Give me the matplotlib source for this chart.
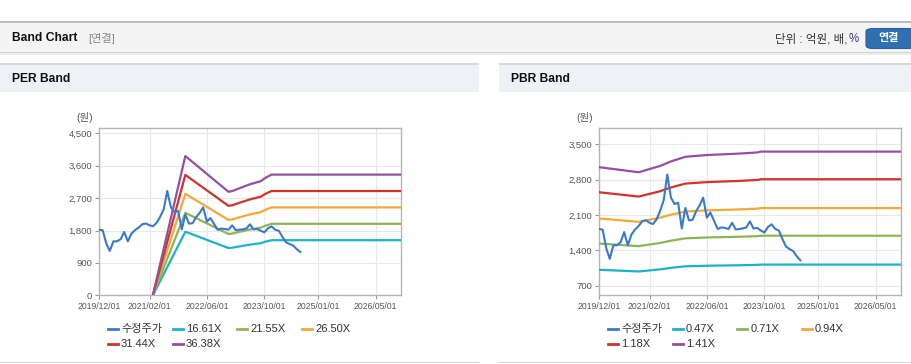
import matplotlib
matplotlib.use("Agg")
import matplotlib.pyplot as plt
import matplotlib.dates as mdates
from matplotlib.patches import Rectangle, FancyBboxPatch
from matplotlib.lines import Line2D
from matplotlib.ticker import FuncFormatter
import pandas as pd

plt.rcParams["font.family"] = ["Liberation Sans", "Noto Sans CJK KR", "DejaVu Sans"]

W, H = 912, 364

# adjusted share price, monthly from 2019/12
price_start = "2019-12-01"
price = [1825, 1807, 1436, 1232, 1500, 1500, 1560, 1760, 1500, 1714,
         1812, 1883, 1975, 1995, 1945, 1918, 2010, 2176, 2392, 2900,
         2443, 2316, 2341, 1832, 2240, 1992, 2005, 2168, 2290, 2443,
         2046, 2148, 1985, 1822, 1853, 1843, 1822, 1945, 1812, 1822,
         1832, 1853, 1973, 1832, 1843, 1792, 1751, 1863, 1914, 1822,
         1792, 1629, 1476, 1425, 1384, 1283, 1203]

# PER band: EPS at the points where the band bends
eps_dates = ["2021-03-01", "2021-12-01", "2022-12-01", "2023-01-01", "2023-03-01",
             "2023-06-01", "2023-07-01", "2023-09-01", "2023-10-01", "2023-11-01",
             "2023-12-01", "2026-12-01"]
eps = [0, 106.4, 79.1, 79.6, 81.7, 84.8, 85.6, 87.2, 89.2, 90.8, 92.2, 92.2]
per_multiples = [16.61, 21.55, 26.50, 31.44, 36.38]

# PBR band: BPS at the points where the band bends
bps_dates = ["2019-12-01", "2020-11-01", "2021-05-01", "2021-08-01", "2021-12-01",
             "2022-06-01", "2023-03-01", "2023-08-01", "2023-09-01", "2026-12-01"]
bps = [2160, 2088, 2177, 2240, 2305, 2330, 2350, 2366, 2378, 2378]
pbr_multiples = [0.47, 0.71, 0.94, 1.18, 1.41]

per_ticks = [0, 900, 1800, 2700, 3600, 4500]
pbr_ticks = [700, 1400, 2100, 2800, 3500]
date_ticks = ["2019-12-01", "2021-02-01", "2022-06-01", "2023-10-01",
              "2025-01-01", "2026-05-01"]
x_end = "2026-12-01"

price_color = "#3a7acb"
band_colors = ["#1cb3c6", "#8fb457", "#f3a938", "#d1332c", "#93519f"]


def fx(px):
    return px / W


def fy(py):
    return 1 - py / H


def rect(fig, x0, y0, x1, y1, color):
    fig.patches.append(Rectangle((fx(x0), fy(y1)), (x1 - x0) / W, (y1 - y0) / H,
                                 transform=fig.transFigure, facecolor=color,
                                 edgecolor="none", zorder=0))


def draw_panel(fig, x0, x1, title, left, ylim, yticks, base, base_dates, multiples):
    rect(fig, x0, 63.5, x1, 64.7, "#d9d9d9")
    rect(fig, x0, 64.7, x1, 92, "#eef2f7")
    rect(fig, x0, 361.5, x1, 363, "#d6d6d6")
    fig.text(fx(x0 + 12), fy(79), title, fontsize=8.7, fontweight="bold",
             color="#111111", va="center")

    ax = fig.add_axes([fx(left), fy(295.3), 302 / W, 167.3 / H])
    dates = pd.date_range(price_start, periods=len(price), freq="MS")
    bdates = pd.to_datetime(base_dates)
    ax.plot(dates, price, color=price_color, lw=1.5, zorder=4)
    for m, c in zip(multiples, band_colors):
        ax.plot(bdates, [b * m for b in base], color=c, lw=1.6, zorder=3)

    ax.set_xlim(pd.Timestamp(price_start), pd.Timestamp(x_end))
    ax.set_ylim(*ylim)
    ax.set_yticks(yticks)
    ax.yaxis.set_major_formatter(FuncFormatter(lambda v, p: f"{int(v):,}"))
    ax.set_xticks(pd.to_datetime(date_ticks))
    ax.xaxis.set_major_formatter(mdates.DateFormatter("%Y/%m/%d"))
    ax.grid(True, color="#e8e8e8", lw=0.8)
    ax.set_axisbelow(True)
    for s in ax.spines.values():
        s.set_color("#b5b5b5")
        s.set_linewidth(1.0)
    ax.tick_params(axis="both", length=3, width=0.8, color="#999999",
                   labelcolor="#555555", pad=2)
    ax.tick_params(axis="y", labelsize=6.8)
    ax.tick_params(axis="x", labelsize=6.2)
    fig.text(fx(left - 14), fy(118), "(원)", fontsize=7.5, color="#555555",
             ha="center", va="center")

    # legend
    labels = ["수정주가"] + [f"{m:.2f}X" for m in multiples]
    colors = [price_color] + band_colors
    for i, (lab, c) in enumerate(zip(labels, colors)):
        col, row = i % 4, i // 4
        lx = left + 9 + 64.7 * col
        ly = 329 + 15 * row
        fig.add_artist(Line2D([fx(lx), fx(lx + 10)], [fy(ly), fy(ly)],
                              transform=fig.transFigure, color=c, lw=2.0))
        fig.text(fx(lx + 13), fy(ly), lab, fontsize=8, color="#333333",
                 va="center", ha="left")
    return ax


fig = plt.figure(figsize=(W / 100, H / 100), dpi=100, facecolor="white")

# page header
rect(fig, 0, 21, W, 23, "#bdbdbd")
rect(fig, 0, 23, W, 52, "#f4f4f4")
rect(fig, 0, 52, W, 53, "#d4d4d4")
rect(fig, 0, 53, W, 55, "#ededed")
fig.text(fx(12), fy(38), "Band Chart", fontsize=8.7, fontweight="bold",
         color="#111111", va="center")
fig.text(fx(88), fy(38), "[연결]", fontsize=8, color="#888888", va="center")
fig.text(fx(848), fy(39), "단위 : 억원, 배,", fontsize=8.3, color="#333333",
         va="center", ha="right")
fig.text(fx(859), fy(39), "%", fontsize=8.3, color="#3b3b8f", va="center", ha="right")
fig.patches.append(FancyBboxPatch((fx(866), fy(48.5)), 50 / W, 20 / H,
                                  boxstyle="round,pad=0,rounding_size=0.008",
                                  transform=fig.transFigure, facecolor="#2f6fb2",
                                  edgecolor="#2a62a0", lw=0.8, zorder=1))
fig.text(fx(889), fy(38.5), "연결", fontsize=8, fontweight="bold", color="white",
         ha="center", va="center")

draw_panel(fig, 0, 479, "PER Band", 99, (0, 4650), per_ticks, eps, eps_dates,
           per_multiples)
draw_panel(fig, 499, W, "PBR Band", 599, (510, 3820), pbr_ticks, bps, bps_dates,
           pbr_multiples)

fig.savefig("out.png", dpi=100, facecolor="white")
